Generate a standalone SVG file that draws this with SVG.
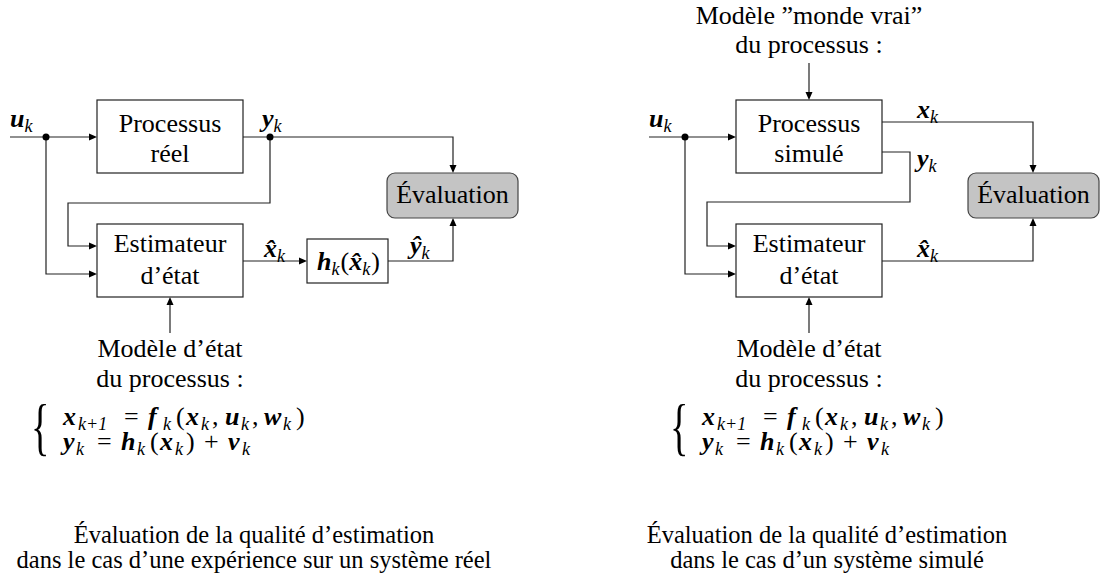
<svg xmlns="http://www.w3.org/2000/svg" width="1106" height="587" viewBox="0 0 1106 587">
<style>
.t{font-family:'Liberation Serif',serif;font-size:26px;fill:#000}
.c{font-family:'Liberation Serif',serif;font-size:24.5px;fill:#000}
.br{font-family:'Liberation Serif',serif;font-size:64px;fill:#000}
.mb{font-weight:bold;font-style:italic}
.sb{font-style:italic;font-size:18px;font-weight:normal}
.mid{text-anchor:middle}
.box{fill:#fff;stroke:#222;stroke-width:1.2}
.ev{fill:#c4c4c4;stroke:#444;stroke-width:1.2}
.ln{fill:none;stroke:#222;stroke-width:1.2}
.ah{fill:#000}
.dot{fill:#000}
</style>
<g id="connectors-left">
<line class="ln" x1="10" y1="137" x2="90" y2="137"/>
<polyline class="ln" points="46,137 46,274 90,274"/>
<polyline class="ln" points="243,137 453,137 453,166"/>
<polyline class="ln" points="270,137 270,203 68,203 68,246 90,246"/>
<line class="ln" x1="243" y1="261" x2="300" y2="261"/>
<polyline class="ln" points="388,261 453,261 453,225"/>
<line class="ln" x1="170" y1="333" x2="170" y2="304"/>
<polygon class="ah" points="89,133.5 97,137 89,140.5"/>
<polygon class="ah" points="89,270.5 97,274 89,277.5"/>
<polygon class="ah" points="449.5,165 453,173 456.5,165"/>
<polygon class="ah" points="89,242.5 97,246 89,249.5"/>
<polygon class="ah" points="299,257.5 307,261 299,264.5"/>
<polygon class="ah" points="449.5,226 453,218 456.5,226"/>
<polygon class="ah" points="166.5,305 170,297 173.5,305"/>
<circle class="dot" cx="46" cy="137" r="3.5"/>
<circle class="dot" cx="270" cy="137" r="3.5"/>
</g>
<g id="labels-left">
<text class="t" x="10" y="127"><tspan class="mb">u</tspan><tspan class="sb" dy="5">k</tspan></text>
<text class="t" x="262" y="127"><tspan class="mb">y</tspan><tspan class="sb" dy="5">k</tspan></text>
<text class="t" x="264" y="257"><tspan class="mb">x&#x302;</tspan><tspan class="sb" dy="5">k</tspan></text>
<text class="t" x="410" y="254"><tspan class="mb">y&#x302;</tspan><tspan class="sb" dy="5">k</tspan></text>
</g>
<g id="proc-reel">
<rect class="box" x="97" y="100" width="146" height="73"/>
<text class="t mid" x="170" y="132">Processus</text>
<text class="t mid" x="170" y="162">réel</text>
</g>
<g id="estim-left">
<rect class="box" x="97" y="224" width="146" height="73"/>
<text class="t mid" x="170" y="252">Estimateur</text>
<text class="t mid" x="170" y="284">d’état</text>
</g>
<g id="hbox">
<rect class="box" x="307" y="239" width="81" height="44"/>
<text class="t" x="317" y="270"><tspan class="mb">h</tspan><tspan class="sb" dy="5">k</tspan><tspan dy="-5" dx="1">(</tspan><tspan class="mb">x&#x302;</tspan><tspan class="sb" dy="5">k</tspan><tspan dy="-5" dx="1">)</tspan></text>
</g>
<g id="eval-left">
<rect class="ev" x="387" y="173" width="131" height="45" rx="8"/>
<text class="t mid" x="452.5" y="203">Évaluation</text>
</g>
<g id="model-left">
<text class="t mid" x="170" y="357">Modèle d’état</text>
<text class="t mid" x="170" y="387">du processus :</text>
<text class="br" transform="translate(31,448) scale(0.6,1)">{</text>
<text class="t"><tspan class="mb" x="63" y="425">x</tspan><tspan class="sb" x="78" y="430">k+1</tspan><tspan x="124" y="425">=</tspan><tspan class="mb" x="148" y="425">f</tspan><tspan class="sb" x="163" y="430">k</tspan><tspan x="176" y="425">(</tspan><tspan class="mb" x="186" y="425">x</tspan><tspan class="sb" x="201" y="430">k</tspan><tspan x="212" y="425">,</tspan><tspan class="mb" x="225" y="425">u</tspan><tspan class="sb" x="241" y="430">k</tspan><tspan x="252" y="425">,</tspan><tspan class="mb" x="264" y="425">w</tspan><tspan class="sb" x="283" y="430">k</tspan><tspan x="296" y="425">)</tspan></text>
<text class="t"><tspan class="mb" x="63" y="450">y</tspan><tspan class="sb" x="76" y="455">k</tspan><tspan x="97" y="450">=</tspan><tspan class="mb" x="121" y="450">h</tspan><tspan class="sb" x="137" y="455">k</tspan><tspan x="150" y="450">(</tspan><tspan class="mb" x="160" y="450">x</tspan><tspan class="sb" x="175" y="455">k</tspan><tspan x="186" y="450">)</tspan><tspan x="204" y="450">+</tspan><tspan class="mb" x="228" y="450">v</tspan><tspan class="sb" x="242" y="455">k</tspan></text>
</g>
<g id="caption-left">
<text class="c mid" x="254" y="543">Évaluation de la qualité d’estimation</text>
<text class="c mid" x="254" y="568">dans le cas d’une expérience sur un système réel</text>
</g>
<g id="connectors-right">
<line class="ln" x1="649" y1="137" x2="729" y2="137"/>
<polyline class="ln" points="685,137 685,274 729,274"/>
<polyline class="ln" points="882,122 1033,122 1033,166"/>
<polyline class="ln" points="882,152 910,152 910,202 707,202 707,246 729,246"/>
<polyline class="ln" points="882,261 1033,261 1033,225"/>
<line class="ln" x1="809" y1="63" x2="809" y2="93"/>
<line class="ln" x1="809" y1="333" x2="809" y2="304"/>
<polygon class="ah" points="728,133.5 736,137 728,140.5"/>
<polygon class="ah" points="728,270.5 736,274 728,277.5"/>
<polygon class="ah" points="1029.5,165 1033,173 1036.5,165"/>
<polygon class="ah" points="728,242.5 736,246 728,249.5"/>
<polygon class="ah" points="1029.5,226 1033,218 1036.5,226"/>
<polygon class="ah" points="805.5,92 809,100 812.5,92"/>
<polygon class="ah" points="805.5,305 809,297 812.5,305"/>
<circle class="dot" cx="685" cy="137" r="3.5"/>
</g>
<g id="labels-right">
<text class="t" x="649" y="127"><tspan class="mb">u</tspan><tspan class="sb" dy="5">k</tspan></text>
<text class="t" x="917" y="118"><tspan class="mb">x</tspan><tspan class="sb" dy="5">k</tspan></text>
<text class="t" x="917" y="167"><tspan class="mb">y</tspan><tspan class="sb" dy="5">k</tspan></text>
<text class="t" x="917" y="257"><tspan class="mb">x&#x302;</tspan><tspan class="sb" dy="5">k</tspan></text>
</g>
<g id="world-model">
<text class="t mid" x="809" y="24">Modèle ”monde vrai”</text>
<text class="t mid" x="809" y="53">du processus :</text>
</g>
<g id="proc-simule">
<rect class="box" x="736" y="100" width="146" height="73"/>
<text class="t mid" x="809" y="132">Processus</text>
<text class="t mid" x="809" y="162">simulé</text>
</g>
<g id="estim-right">
<rect class="box" x="736" y="224" width="146" height="73"/>
<text class="t mid" x="809" y="252">Estimateur</text>
<text class="t mid" x="809" y="284">d’état</text>
</g>
<g id="eval-right">
<rect class="ev" x="968" y="173" width="131" height="45" rx="8"/>
<text class="t mid" x="1033.5" y="203">Évaluation</text>
</g>
<g id="model-right">
<text class="t mid" x="809" y="357">Modèle d’état</text>
<text class="t mid" x="809" y="387">du processus :</text>
<text class="br" transform="translate(670,448) scale(0.6,1)">{</text>
<text class="t"><tspan class="mb" x="702" y="425">x</tspan><tspan class="sb" x="717" y="430">k+1</tspan><tspan x="763" y="425">=</tspan><tspan class="mb" x="787" y="425">f</tspan><tspan class="sb" x="802" y="430">k</tspan><tspan x="815" y="425">(</tspan><tspan class="mb" x="825" y="425">x</tspan><tspan class="sb" x="840" y="430">k</tspan><tspan x="851" y="425">,</tspan><tspan class="mb" x="864" y="425">u</tspan><tspan class="sb" x="880" y="430">k</tspan><tspan x="891" y="425">,</tspan><tspan class="mb" x="903" y="425">w</tspan><tspan class="sb" x="922" y="430">k</tspan><tspan x="935" y="425">)</tspan></text>
<text class="t"><tspan class="mb" x="702" y="450">y</tspan><tspan class="sb" x="715" y="455">k</tspan><tspan x="736" y="450">=</tspan><tspan class="mb" x="760" y="450">h</tspan><tspan class="sb" x="776" y="455">k</tspan><tspan x="789" y="450">(</tspan><tspan class="mb" x="799" y="450">x</tspan><tspan class="sb" x="814" y="455">k</tspan><tspan x="825" y="450">)</tspan><tspan x="843" y="450">+</tspan><tspan class="mb" x="867" y="450">v</tspan><tspan class="sb" x="881" y="455">k</tspan></text>
</g>
<g id="caption-right">
<text class="c mid" x="827" y="543">Évaluation de la qualité d’estimation</text>
<text class="c mid" x="827" y="568">dans le cas d’un système simulé</text>
</g>
</svg>
